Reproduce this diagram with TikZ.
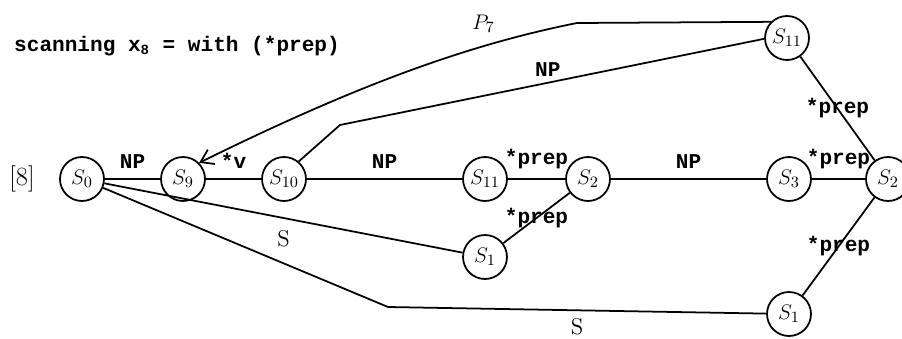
\documentclass[tikz,border=0pt]{standalone}
\usepackage{fontspec}
\setmonofont{Liberation Mono}
\usetikzlibrary{arrows.meta}

\begin{document}
\begin{tikzpicture}[
  x=0.02cm, y=-0.02cm,
  st/.style={draw, circle, line width=1pt, minimum size=0.88cm, inner sep=0pt,
             font=\fontsize{13}{15}\selectfont},
  edge/.style={line width=1pt},
  arr/.style={-{Straight Barb[length=2.4mm, width=3.2mm]}, line width=1pt},
  tlbl/.style={font=\fontsize{12}{14}\selectfont\ttfamily\bfseries},
  rlbl/.style={font=\fontsize{13}{15}\selectfont}
]
\useasboundingbox (0,0) rectangle (902,338);
% heading and example number
\node[tlbl, anchor=west] (head) at (8,46) {scanning x\textsubscript{8} = with (*prep)};
\node[font=\fontsize{15}{17}\selectfont] (num) at (22,179) {[8]};
% states
\node[st] (s0) at (82,179) {$S_0$};
\node[st] (s9) at (183,179) {$S_9$};
\node[st] (s10) at (284,179) {$S_{10}$};
\node[st] (s11m) at (485,179) {$S_{11}$};
\node[st] (s2m) at (588,179) {$S_2$};
\node[st] (s3) at (789,179) {$S_3$};
\node[st] (s2r) at (888,179) {$S_2$};
\node[st] (s11t) at (787,38) {$S_{11}$};
\node[st] (s1m) at (485,257) {$S_1$};
\node[st] (s1b) at (789,314) {$S_1$};
\coordinate (npbend) at (340,125);
\coordinate (sbend) at (388,307);
\coordinate (p7bend) at (577,23);
% main row
\draw[edge] (s0) -- node[above=2pt, tlbl] {NP} (s9);
\draw[edge] (s9) -- node[above=2pt, tlbl] {*v} (s10);
\draw[edge] (s10) -- node[above=2pt, tlbl] {NP} (s11m);
\draw[edge] (s11m) -- node[above=2pt, tlbl] {*prep} (s2m);
\draw[edge] (s2m) -- node[above=2pt, tlbl] {NP} (s3);
\draw[edge] (s3) -- node[above=2pt, tlbl] {*prep} (s2r);
% slanted edges
\draw[edge] (s11t) -- node[tlbl] {*prep} (s2r);
\draw[edge] (s2m) -- node[tlbl] {*prep} (s1m);
\draw[edge] (s2r) -- node[tlbl] {*prep} (s1b);
\draw[edge] (s0) -- node[below=3pt, rlbl] {S} (s1m);
\draw[edge] (s0) -- (sbend) -- node[below=1pt, rlbl] {S} (s1b);
% upper paths
\draw[edge] (s10.50) -- (npbend) -- node[pos=0.49, above, tlbl] {NP} (s11t.182);
\draw[arr] (s11t.135) -- (p7bend) .. controls (467,45) and (357,85) .. (s9.45)
  node[pos=0.28, above=4pt, rlbl] {$P_7$};
\end{tikzpicture}
\end{document}
